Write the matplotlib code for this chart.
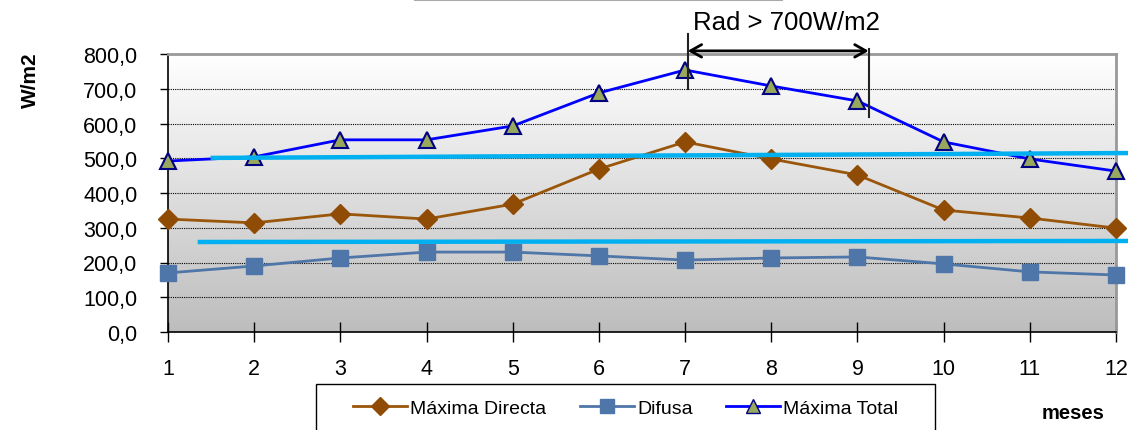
import numpy as np
import matplotlib.pyplot as plt
from matplotlib.lines import Line2D
from matplotlib.patches import Rectangle
from matplotlib.colors import LinearSegmentedColormap

plt.rcParams['font.family'] = ['Liberation Sans', 'DejaVu Sans']

# monthly radiation values (W/m2)
meses = [1, 2, 3, 4, 5, 6, 7, 8, 9, 10, 11, 12]
max_directa = [325, 314, 340, 325, 368, 469, 547, 498, 452, 351, 328, 299]
difusa = [170, 190, 213, 230, 230, 219, 207, 213, 216, 196, 173, 164]
max_total = [492, 504, 553, 553, 593, 688, 754, 708, 665, 547, 498, 463]

# reference levels drawn as cyan lines: (x0, y0, x1, y1)
nivel_total = (1.52, 501, 12.14, 515)
nivel_difusa = (1.37, 259, 12.14, 262)

# months where radiation passes 700 W/m2
rad_inicio, rad_fin = 7.03, 9.13
rad_texto = 'Rad > 700W/m2'

fig = plt.figure(figsize=(11.28, 4.31), dpi=100)
ax = fig.add_axes([168/1128, 1 - 333/431, (1116 - 168)/1128, (333 - 55)/431])

# grey gradient background
fondo = LinearSegmentedColormap.from_list('fondo', ['#ffffff', '#bdbdbd'])
grad = np.linspace(0, 1, 256).reshape(-1, 1)
ax.imshow(grad, extent=[1, 12, 0, 800], aspect='auto', cmap=fondo,
          origin='upper', zorder=0)

ax.set_xlim(1, 12)
ax.set_ylim(0, 800)
ax.set_yticks(np.arange(0, 801, 100))
ax.set_yticklabels(['{:.1f}'.format(v).replace('.', ',') for v in range(0, 801, 100)])
ax.set_xticks(meses)
ax.yaxis.grid(True, linestyle=(0, (1, 1)), color='black', linewidth=0.8)
ax.set_axisbelow(True)
ax.tick_params(axis='y', labelsize=15.5, direction='out', length=6, width=1, pad=16)
ax.tick_params(axis='x', labelsize=15.5, direction='inout', length=14, width=1, pad=12)
for s in ['top', 'right']:
    ax.spines[s].set_color('#999999')
    ax.spines[s].set_linewidth(2)
for s in ['left', 'bottom']:
    ax.spines[s].set_linewidth(1.2)

ax.plot(meses, max_directa, color='#9a560a', lw=2, marker='D', ms=10,
        mfc='#904c05', mec='#904c05', clip_on=False, zorder=3)
ax.plot(meses, difusa, color='#4f76a8', lw=2, marker='s', ms=11,
        mfc='#4f76a8', mec='#4f76a8', clip_on=False, zorder=3)
ax.plot(meses, max_total, color='#0000ff', lw=2, marker='^', ms=11,
        mfc='#98a85e', mec='#000080', mew=1.5, clip_on=False, zorder=3)

for x0, y0, x1, y1 in [nivel_total, nivel_difusa]:
    ax.plot([x0, x1], [y0, y1], color='#00b0f0', lw=3.2, clip_on=False, zorder=4)

# bracket for the period above 700 W/m2
ax.plot([rad_inicio, rad_inicio], [699, 857], color='#222222', lw=1.5, clip_on=False, zorder=5)
ax.plot([rad_fin, rad_fin], [619, 814], color='#222222', lw=1.5, clip_on=False, zorder=5)
ax.annotate('', xy=(rad_inicio, 809), xytext=(rad_fin, 809),
            arrowprops=dict(arrowstyle='<->,head_length=0.8,head_width=0.45',
                            color='black', lw=2, shrinkA=0, shrinkB=0),
            annotation_clip=False)
ax.text(8.18, 892, rad_texto, fontsize=18.5, ha='center', va='center')

fig.text(30/1128, 1 - 80/431, 'W/m2', rotation=90, fontsize=15, fontweight='bold',
         ha='center', va='center')
fig.text(1073/1128, 1 - 414/431, 'meses', fontsize=14.5, fontweight='bold',
         ha='center', va='center')

# thin grey line at the very top
fig.add_artist(Line2D([415/1128, 782/1128], [0.998, 0.998], color='#aaaaaa', lw=1.5))

# legend box, running off the bottom edge
fig.add_artist(Rectangle((316/1128, -0.05), (935 - 316)/1128, 0.05 + 1 - 385/431,
                         transform=fig.transFigure, facecolor='white',
                         edgecolor='black', lw=1, zorder=1))

handles = [
    Line2D([], [], color='#9a560a', lw=2, marker='D', ms=9, mfc='#904c05', mec='#904c05'),
    Line2D([], [], color='#4f76a8', lw=2, marker='s', ms=10, mfc='#4f76a8', mec='#4f76a8'),
    Line2D([], [], color='#0000ff', lw=2, marker='^', ms=10, mfc='#98a85e', mec='#000080'),
]
leg = fig.legend(handles, ['Máxima Directa', 'Difusa', 'Máxima Total'],
                 loc='center left', bbox_to_anchor=(353/1128, 1 - 409/431),
                 ncol=3, fontsize=14, frameon=False,
                 handlelength=2.8, handletextpad=0.15,
                 columnspacing=1.7, borderpad=0, borderaxespad=0)
leg.set_zorder(2)

fig.savefig('out.png', dpi=100)
